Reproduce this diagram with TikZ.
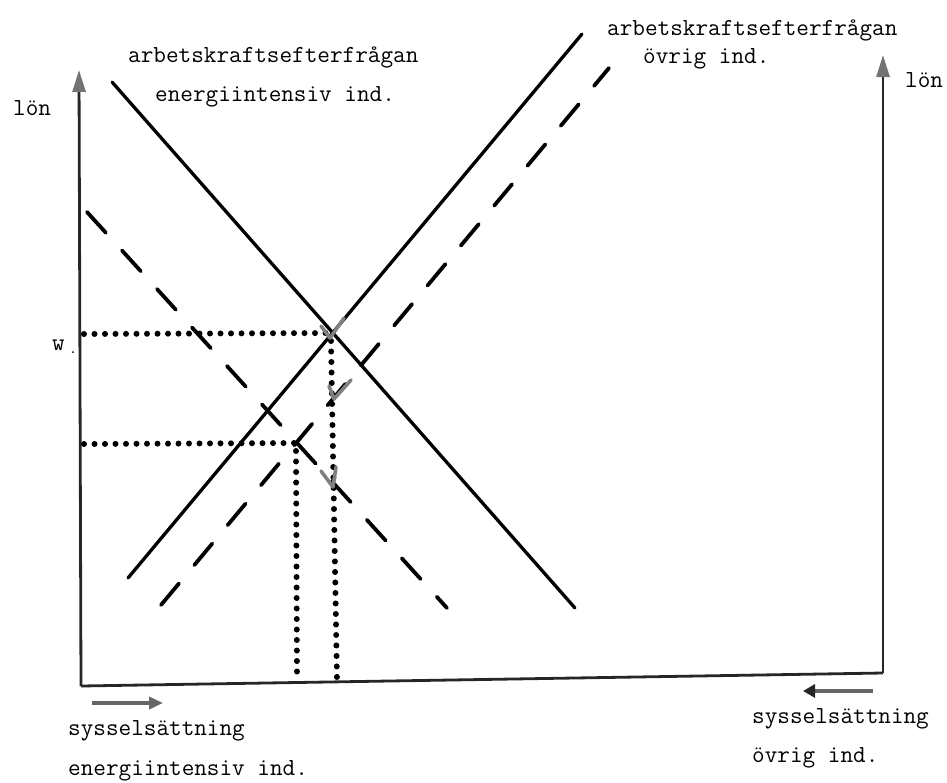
\documentclass[tikz,border=0pt]{standalone}
\usepackage{fontspec}
\usetikzlibrary{arrows.meta}
\begin{document}
\begin{tikzpicture}[x=1pt,y=-1pt,
  lbl/.style={font=\fontsize{24.5}{28}\selectfont\ttfamily, inner sep=0pt, anchor=base west},
  axisline/.style={line width=2.8pt, draw=black!85},
  axishead/.style={-{Triangle[length=22pt,width=13pt,color=black!55]}},
  curve/.style={line width=3.3pt, line cap=round},
  dashcurve/.style={line width=3.8pt, line cap=round, dash pattern=on 28pt off 24pt},
  dots/.style={line width=6pt, line cap=round, dash pattern=on 0pt off 10.5pt},
  checkmark/.style={line width=3.6pt, draw=black!50, line cap=round, line join=round},
  dirarrow/.style={line width=3.8pt, draw=black!60, -{Triangle[length=14pt,width=12pt]}}
]
\useasboundingbox (0,0) rectangle (947,782);

% axes
\coordinate (O) at (81,686);
\coordinate (Ytop) at (79,70);
\coordinate (Rb) at (883,673);
\coordinate (Rtop) at (883,55);
\draw[axisline] (O) -- (Rb);
\draw[axisline, axishead] (O) -- (Ytop);
\draw[axisline, axishead] (Rb) -- (Rtop);

% demand, energy-intensive industry (solid and shifted dashed)
\coordinate (d1a) at (112,82);
\coordinate (d1b) at (575,608);
\coordinate (d2a) at (87,212);
\coordinate (d2b) at (447,608);
\draw[curve] (d1a) -- (d1b);
\draw[dashcurve] (d2a) -- (d2b);

% demand, other industry (solid and shifted dashed)
\coordinate (s1a) at (128,578);
\coordinate (s1b) at (582,34);
\coordinate (s2a) at (161,605);
\coordinate (s2b) at (609,68);
\draw[curve] (s1a) -- (s1b);
\draw[dashcurve] (s2a) -- (s2b);

% equilibria and dotted guides
\coordinate (E) at (331,333);
\coordinate (E2) at (296,443);
\coordinate (hw) at (84,334);
\coordinate (h2) at (84,444);
\coordinate (v1) at (337,680);
\coordinate (v2) at (297,680);
\draw[dots] (hw) -- (E);
\draw[dots] (E) ++(0,8) -- (v1);
\draw[dots] (h2) -- (E2);
\draw[dots] (E2) ++(0,8) -- (v2);

% movement marks along the guide
\coordinate (m1a) at (321,326);
\coordinate (m1b) at (330,338);
\coordinate (m1c) at (344,318);
\coordinate (m2a) at (329,386);
\coordinate (m2b) at (334,399);
\coordinate (m2c) at (351,380);
\coordinate (m3a) at (321,471);
\coordinate (m3b) at (333,487);
\coordinate (m3c) at (336,467);
\draw[checkmark] (m1a) -- (m1b) -- (m1c);
\draw[checkmark] (m2a) -- (m2b) -- (m2c);
\draw[checkmark] (m3a) -- (m3b) -- (m3c);

% direction arrows under the horizontal axis
\coordinate (al1) at (92,703);
\coordinate (al2) at (163,703);
\coordinate (ar1) at (873,691);
\coordinate (ar2) at (803,691);
\draw[dirarrow] (al1) -- (al2);
\draw[dirarrow, -{Triangle[length=12pt,width=13pt,color=black!85]}] (ar1) -- (ar2);

% labels
\node[lbl] (lonL) at (13,115) {lön};
\node[lbl] (lonR) at (905,87) {lön};
\node[lbl] (wl) at (52,350) {w};
\fill (73,352) circle (1pt);
\node[lbl] (tl1) at (128,62) {arbetskraftsefterfrågan};
\node[lbl] (tl2) at (155,101) {energiintensiv ind.};
\node[lbl] (tr1) at (607,35) {arbetskraftsefterfrågan};
\node[lbl] (tr2) at (643,63) {övrig ind.};
\node[lbl] (bl1) at (68,735) {sysselsättning};
\node[lbl] (bl2) at (68,775) {energiintensiv ind.};
\node[lbl] (br1) at (752,723) {sysselsättning};
\node[lbl] (br2) at (752,762) {övrig ind.};
\end{tikzpicture}
\end{document}
